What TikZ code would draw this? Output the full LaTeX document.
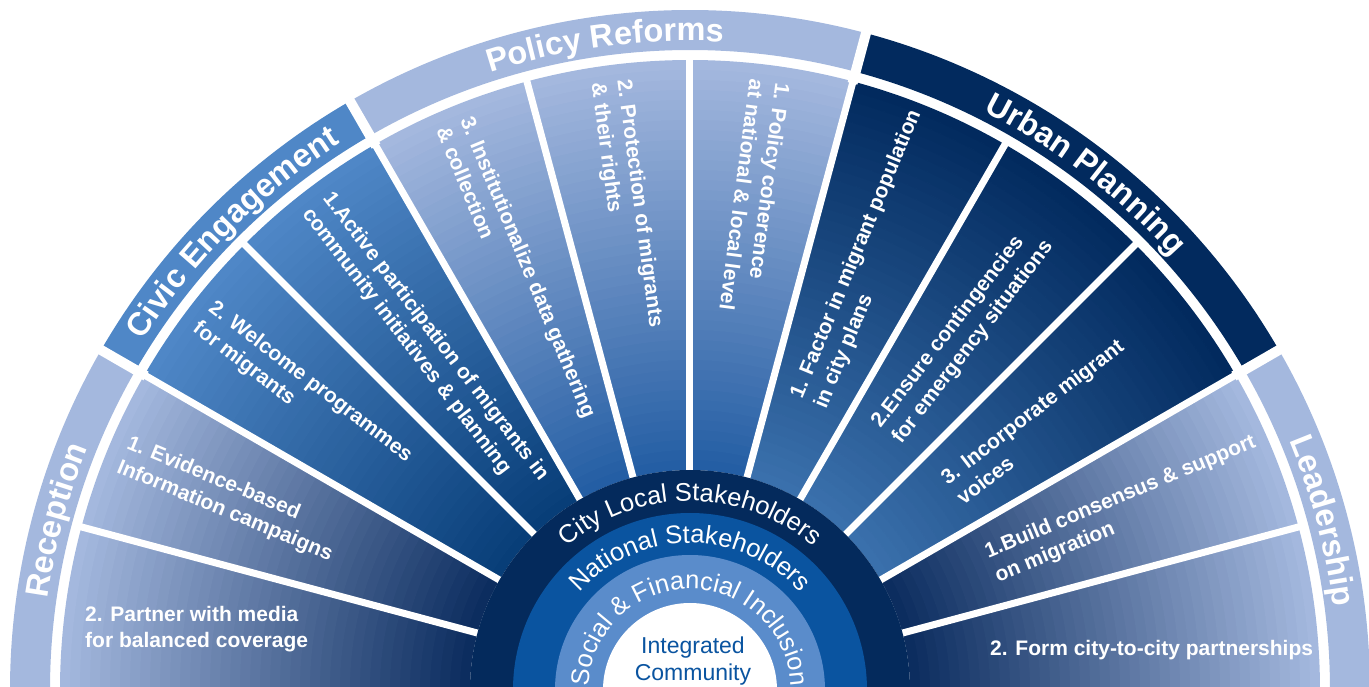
\documentclass[tikz,border=0pt]{standalone}
\usepackage{fontspec}
\setmainfont{Liberation Sans}
\usetikzlibrary{decorations.text}
\definecolor{bandlt}{RGB}{164,184,222}
\definecolor{bandmd}{RGB}{79,135,199}
\definecolor{banddk}{RGB}{2,42,94}
\definecolor{ringcty}{RGB}{4,42,92}
\definecolor{ringnat}{RGB}{10,84,160}
\definecolor{ringsoc}{RGB}{90,140,203}
\definecolor{recin}{RGB}{12,45,95}
\definecolor{civin}{RGB}{8,62,120}
\definecolor{polin}{RGB}{36,94,164}
\definecolor{urbin}{RGB}{58,112,172}
\tikzset{
  sline/.style={white, line width=7pt},
  bgap/.style={white, line width=10pt},
  stxt/.style={text=white, font=\bfseries\fontsize{21}{26}\selectfont, align=left, inner sep=0pt, anchor=west},
  ctxt/.style={text=ringnat, font=\fontsize{23}{27}\selectfont, align=center, inner sep=0pt},
}
\newcommand{\gsect}[4]{% from, to, inner colour, outer colour
  \foreach \k in {0,...,40}{%
    \pgfmathsetmacro\ra{220+10*\k}
    \pgfmathsetmacro\rb{min(\ra+10.6,630)}
    \pgfmathsetmacro\pc{2.5*\k}
    \fill[fill=#4!\pc!#3] (#1:\ra pt) arc[start angle=#1, end angle=#2, radius=\ra pt]
      -- (#2:\rb pt) arc[start angle=#2, end angle=#1, radius=\rb pt] -- cycle;}}
\newcommand{\band}[3]{%
  \fill[#3] (#1:640pt) arc[start angle=#1, end angle=#2, radius=640pt]
    -- (#2:680pt) arc[start angle=#2, end angle=#1, radius=680pt] -- cycle;}
\newcommand{\arctxt}[5]{% radius, from, to, font, text
  \path[decorate, decoration={text along path, text align=center, text color=white, text={|#4|#5}}]
    (#2:#1pt) arc[start angle=#2, end angle=#3, radius=#1pt];}
\newcommand{\ringfont}{\fontsize{25.5}{25.5}\selectfont}
\newcommand{\bandfont}{\bfseries\fontsize{32.5}{32.5}\selectfont}

\begin{document}
\begin{tikzpicture}[x=1pt, y=1pt]
  \useasboundingbox (-690,4) rectangle (679,690);
  % fans of the five areas
  \gsect{150}{180}{recin}{bandlt}
  \gsect{120}{150}{civin}{bandmd}
  \gsect{75}{120}{polin}{bandlt}
  \gsect{30}{75}{urbin}{banddk}
  \gsect{0}{30}{recin}{bandlt}
  \foreach \a in {15,30,...,165} \draw[sline] (\a:216pt) -- (\a:634pt);
  % outer bands
  \band{150}{180}{bandlt}
  \band{120}{150}{bandmd}
  \band{75}{120}{bandlt}
  \band{30}{75}{banddk}
  \band{0}{30}{bandlt}
  \foreach \a in {30,75,120,150} \draw[bgap] (\a:628pt) -- (\a:690pt);
  \arctxt{649}{180}{150}{\bandfont}{Reception}
  \arctxt{649}{150}{120}{\bandfont}{Civic Engagement}
  \arctxt{649}{120}{75}{\bandfont}{Policy Reforms}
  \arctxt{649}{75}{30}{\bandfont}{Urban Planning}
  \arctxt{649}{30}{0}{\bandfont}{Leadership}
  % core rings
  \fill[ringcty] (0,0) circle[radius=220pt];
  \fill[ringnat] (0,0) circle[radius=177pt];
  \fill[ringsoc] (0,0) circle[radius=135pt];
  \fill[white] (0,0) circle[radius=87pt];
  \arctxt{189}{180}{0}{\ringfont}{City Local Stakeholders}
  \arctxt{147}{180}{0}{\ringfont}{National Stakeholders}
  \arctxt{101}{180}{0}{\ringfont}{Social {\&} Financial Inclusion}
  \node[ctxt] (core) at (3,29) {Integrated\\Community};
  % sector labels
  \node[stxt] (rec2) at (-605,60.5) {2. Partner with media\\for balanced coverage};
  \node[stxt, rotate=-22.5] (rec1) at (157.5:614pt) {1. Evidence-based\\Information campaigns};
  \node[stxt, rotate=-37.5] (civ2) at (142.5:614pt) {2. Welcome programmes\\for migrants};
  \node[stxt, rotate=-52.5] (civ1) at (127.5:614pt) {1.Active participation of migrants in\\community initiatives \& planning};
  \node[stxt, rotate=-67.5] (pol3) at (112.5:614pt) {3. Institutionalize data gathering\\\& collection};
  \node[stxt, rotate=-82.5] (pol2) at (97.5:614pt) {2. Protection of migrants\\\& their rights};
  \node[stxt, rotate=-97.5] (pol1) at (82.5:614pt) {1. Policy coherence\\at national \& local level};
  \node[stxt, rotate=67.5] (urb1) at (67.5:311pt) {1. Factor in migrant population\\in city plans};
  \node[stxt, rotate=52.5] (urb2) at (52.5:323pt) {2.Ensure contingencies\\for emergency situations};
  \node[stxt, rotate=37.5] (urb3) at (37.5:329pt) {3. Incorporate migrant\\voices};
  \node[stxt, rotate=22.5] (lea1) at (22.5:326pt) {1.Build consensus \& support\\on migration};
  \node[stxt] (lea2) at (300,40) {2. Form city-to-city partnerships};
\end{tikzpicture}
\end{document}
